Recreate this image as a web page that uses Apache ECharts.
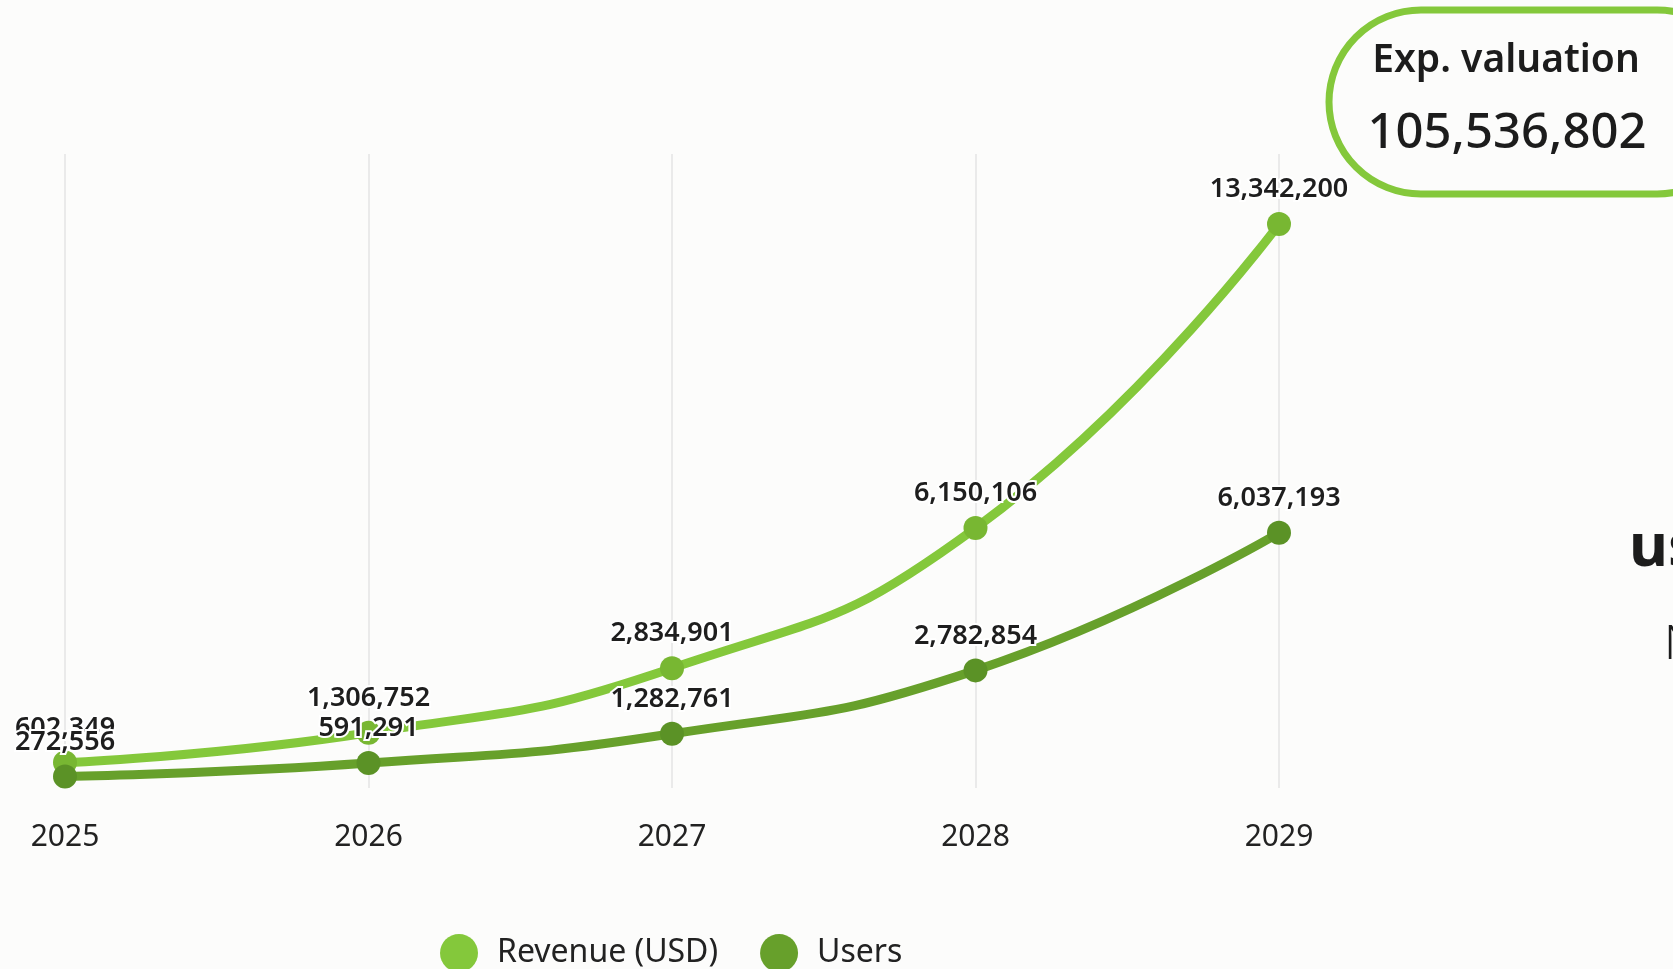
<!DOCTYPE html>
<html>
<head>
<meta charset="utf-8">
<script src="https://cdn.jsdelivr.net/npm/echarts@6/dist/echarts.min.js"></script>
<style>
html, body { margin: 0; padding: 0; background: #fcfcfb; }
#chart { width: 1673px; height: 969px; }
</style>
</head>
<body>
<div id="chart"></div>
<script>
var years = ['2025', '2026', '2027', '2028', '2029'];
var revenue = [602349, 1306752, 2834901, 6150106, 13342200];
var users = [272556, 591291, 1282761, 2782854, 6037193];
var valuationLabel = 'Exp. valuation';
var valuation = 105536802;

var font = '"Noto Sans", "Open Sans", sans-serif';
var colors = {
    revLine: '#84c83b',
    revDot: '#78b732',
    usrLine: '#67a02b',
    usrDot: '#5b9226'
};

function fmt(v) {
    return v.toLocaleString('en-US');
}

var labelStyle = {
    show: true,
    position: 'top',
    distance: 9,
    fontFamily: font,
    fontSize: 27,
    fontWeight: 600,
    color: '#1e1e1e',
    textBorderColor: '#ffffff',
    textBorderWidth: 4,
    formatter: function (p) { return fmt(p.value); }
};

var option = {
    backgroundColor: '#fcfcfb',
    animation: false,
    grid: {
        left: 65,
        right: 394,
        top: 154,
        bottom: 181
    },
    legend: {
        bottom: -8,
        left: 435,
        icon: 'circle',
        itemWidth: 38,
        itemHeight: 38,
        itemGap: 42,
        textStyle: {
            fontFamily: font,
            fontSize: 32,
            color: '#222',
            padding: [0, 0, 0, 14]
        },
        data: [
            { name: 'Revenue (USD)', itemStyle: { color: colors.revLine } },
            { name: 'Users', itemStyle: { color: colors.usrLine } }
        ]
    },
    xAxis: {
        type: 'category',
        boundaryGap: false,
        data: years,
        axisLine: { show: false },
        axisTick: { show: false },
        axisLabel: {
            fontFamily: font,
            fontSize: 30,
            color: '#222',
            margin: 34
        },
        splitLine: {
            show: true,
            lineStyle: { color: '#e4e4e4', width: 1.5 }
        }
    },
    yAxis: {
        type: 'value',
        min: 0,
        max: 15000000,
        show: false,
        splitLine: { show: false }
    },
    series: [
        {
            name: 'Revenue (USD)',
            type: 'line',
            data: revenue,
            smooth: true,
            symbol: 'circle',
            symbolSize: 24,
            lineStyle: { color: colors.revLine, width: 9 },
            itemStyle: { color: colors.revDot },
            label: labelStyle,
            z: 2
        },
        {
            name: 'Users',
            type: 'line',
            data: users,
            smooth: true,
            symbol: 'circle',
            symbolSize: 24,
            lineStyle: { color: colors.usrLine, width: 9 },
            itemStyle: { color: colors.usrDot },
            label: labelStyle,
            z: 3
        }
    ],
    graphic: [
        {
            type: 'rect',
            shape: { x: 1329, y: 10, width: 420, height: 184, r: 92 },
            style: { fill: 'none', stroke: colors.revLine, lineWidth: 7 }
        },
        {
            type: 'text',
            x: 1506,
            y: 61,
            style: {
                text: valuationLabel,
                fontFamily: font,
                fontSize: 39,
                fontWeight: 600,
                fill: '#1c1c1c',
                align: 'center',
                verticalAlign: 'middle'
            }
        },
        {
            type: 'text',
            x: 1507,
            y: 134,
            style: {
                text: fmt(valuation),
                fontFamily: font,
                fontSize: 49,
                fontWeight: 500,
                fill: '#1c1c1c',
                align: 'center',
                verticalAlign: 'middle'
            }
        },
        {
            type: 'text',
            x: 1629,
            y: 549,
            style: {
                text: 'us',
                fontFamily: font,
                fontSize: 60,
                fontWeight: 'bold',
                fill: '#1c1c1c',
                align: 'left',
                verticalAlign: 'middle'
            }
        },
        {
            type: 'text',
            x: 1664,
            y: 645,
            style: {
                text: 'N',
                fontFamily: font,
                fontSize: 48,
                fontWeight: 300,
                fill: '#1c1c1c',
                align: 'left',
                verticalAlign: 'middle'
            }
        }
    ]
};

var chart = echarts.init(document.getElementById('chart'));
chart.setOption(option);
</script>
</body>
</html>
